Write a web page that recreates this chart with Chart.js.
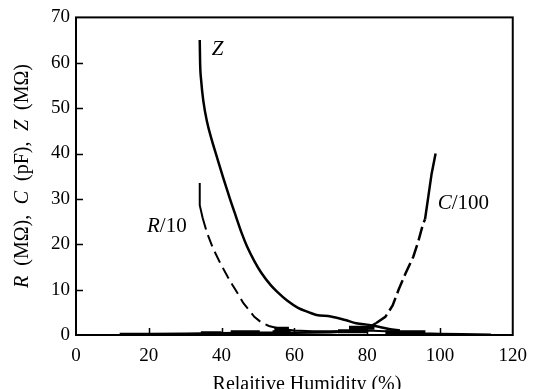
<!DOCTYPE html>
<html>
<head>
<meta charset="utf-8">
<script src="https://cdn.jsdelivr.net/npm/chart.js@4/dist/chart.umd.min.js"></script>
<style>
  html, body { margin: 0; padding: 0; background: #fff; }
  #wrap { width: 537px; height: 389px; }
</style>
</head>
<body>
<div id="wrap"><canvas id="myChart" width="537" height="389"></canvas></div>
<script>
// axis ticks
const xTicks = [0, 20, 40, 60, 80, 100, 120];
const yTicks = [0, 10, 20, 30, 40, 50, 60, 70];

// Z (MOhm)
const zHumidity = [34, 34.1, 34.4, 35, 36, 37.3, 38.8, 40.5, 42.3, 44, 45.5, 47, 49, 51, 53.5, 55.3, 58, 61, 64, 66.1, 70, 74, 77, 80.5, 83.2, 86, 89];
const zValues = [65, 60, 56, 51.5, 47, 43, 39, 34.5, 30, 26, 22.5, 19.5, 16.3, 13.6, 11, 9.5, 7.6, 6, 5, 4.4, 4.1, 3.3, 2.6, 2.2, 1.8, 1.3, 1];

// R/10
const rHumidity = [34, 34, 34.8, 36, 37.7, 39.6, 41.7, 43, 44.4, 46, 47.5, 49, 51, 53, 56, 60, 65, 70, 75, 80, 85, 90, 95, 100, 106, 114];
const rValues = [33.5, 28.6, 25.8, 22.5, 19, 15.9, 12.8, 11, 9.2, 7, 5.5, 4, 2.7, 2, 1.4, 1, 0.8, 0.8, 0.9, 1, 0.8, 0.6, 0.4, 0.3, 0.2, 0.1];

// C/100
const cHumidity = [12, 20, 30, 40, 50, 60, 70, 75, 78, 80.5, 82.4, 85, 87, 88.6, 90.5, 92.7, 94, 95.4, 95.9, 96.8, 97.7, 98.8];
const cValues = [0.2, 0.2, 0.3, 0.4, 0.5, 0.5, 0.6, 0.8, 1.2, 1.7, 2.6, 4, 6.5, 9.9, 13.5, 17.3, 20.5, 24.6, 25.5, 30.5, 35.5, 40];

// heavy scatter of points lying on the baseline
const baseHumidity = [34.3, 40, null, 42.5, 50.5, null, 54, 59, null, 54.5, 58.5, null, 72, 80, null, 75, 82, null, 85, 96];
const baseValues = [0.4, 0.4, null, 0.6, 0.6, null, 0.6, 0.6, null, 1.4, 1.4, null, 0.8, 0.8, null, 1.6, 1.6, null, 0.6, 0.6];

// series labels
const seriesLabels = [
  { parts: [["Z", true]], x: 37.3, y: 63 },
  { parts: [["R", true], ["/10", false]], x: 19.5, y: 24 },
  { parts: [["C", true], ["/100", false]], x: 99.4, y: 29 }
];

const serif = "'Liberation Serif', 'Times New Roman', serif";

function toPoints(xs, ys) {
  return xs.map((x, i) => (x === null ? { x: NaN, y: null } : { x: x, y: ys[i] }));
}

function drawParts(ctx, parts, x, y, size) {
  let cx = x;
  parts.forEach(p => {
    ctx.font = (p[1] ? "italic " : "") + size + "px " + serif;
    ctx.fillText(p[0], cx, y);
    cx += ctx.measureText(p[0]).width;
  });
}

const framePlugin = {
  id: "frame",
  afterDraw(chart) {
    const ctx = chart.ctx;
    const a = chart.chartArea;
    const xs = chart.scales.x, ys = chart.scales.y;
    ctx.save();
    ctx.strokeStyle = "#000";
    ctx.lineWidth = 2;
    ctx.strokeRect(a.left, a.top, a.right - a.left, a.bottom - a.top);
    ctx.lineWidth = 1.5;
    ctx.beginPath();
    xTicks.slice(1, -1).forEach(v => {
      const px = Math.round(xs.getPixelForValue(v)) + 0.5;
      ctx.moveTo(px, a.bottom);
      ctx.lineTo(px, a.bottom - 7);
    });
    yTicks.slice(1, -1).forEach(v => {
      const py = Math.round(ys.getPixelForValue(v)) + 0.5;
      ctx.moveTo(a.left, py);
      ctx.lineTo(a.left + 7, py);
    });
    ctx.stroke();

    ctx.fillStyle = "#000";
    ctx.textBaseline = "middle";
    ctx.textAlign = "left";
    seriesLabels.forEach(l => {
      drawParts(ctx, l.parts, xs.getPixelForValue(l.x), ys.getPixelForValue(l.y), 21);
    });

    // x title
    ctx.font = "20px " + serif;
    ctx.textAlign = "center";
    ctx.textBaseline = "alphabetic";
    ctx.fillText("Relaitive Humidity (%)", 307, 390);

    // y title, mixed italic
    const groups = [
      [["R", true], ["\u2002(M\u03A9),", false]],
      [["C", true], ["\u2002(pF),", false]],
      [["Z", true], ["\u2002(M\u03A9)", false]]
    ];
    const size = 20;
    const widths = groups.map(g => g.reduce((s, p) => {
      ctx.font = (p[1] ? "italic " : "") + size + "px " + serif;
      return s + ctx.measureText(p[0]).width;
    }, 0));
    const total = 224;
    const gap = (total - widths[0] - widths[1] - widths[2]) / 2;
    ctx.translate(23, 176);
    ctx.rotate(-Math.PI / 2);
    ctx.textAlign = "left";
    ctx.textBaseline = "middle";
    let start = -total / 2;
    groups.forEach((g, i) => {
      drawParts(ctx, g, start, 0, size);
      start += widths[i] + gap;
    });
    ctx.restore();
  }
};

const ctx = document.getElementById("myChart").getContext("2d");
new Chart(ctx, {
  type: "scatter",
  data: {
    datasets: [
      {
        label: "Z",
        data: toPoints(zHumidity, zValues),
        showLine: true,
        borderColor: "#000",
        borderWidth: 2.5,
        pointRadius: 0,
        cubicInterpolationMode: "monotone"
      },
      {
        label: "R/10",
        data: toPoints(rHumidity, rValues),
        showLine: true,
        borderColor: "#000",
        borderWidth: 2,
        pointRadius: 0,
        tension: 0,
        segment: {
          borderDash: c => (c.p0.parsed.x >= 34.5 && c.p0.parsed.x < 56 ? [12, 6] : undefined)
        }
      },
      {
        label: "C/100",
        data: toPoints(cHumidity, cValues),
        showLine: true,
        borderColor: "#000",
        borderWidth: 2.5,
        pointRadius: 0,
        tension: 0,
        segment: {
          borderDash: c => (c.p0.parsed.x >= 82 && c.p0.parsed.x < 95.5 ? [14, 5] : undefined)
        }
      },
      {
        label: "base",
        data: toPoints(baseHumidity, baseValues),
        showLine: true,
        spanGaps: false,
        borderColor: "#000",
        borderWidth: 4,
        pointRadius: 0
      }
    ]
  },
  plugins: [framePlugin],
  options: {
    responsive: false,
    animation: false,
    events: [],
    layout: { padding: { left: 0, right: 18, top: 17, bottom: 0 } },
    plugins: {
      legend: { display: false },
      tooltip: { enabled: false }
    },
    scales: {
      x: {
        type: "linear",
        min: xTicks[0],
        max: xTicks[xTicks.length - 1],
        afterFit: s => { s.height = 54; },
        afterBuildTicks: s => { s.ticks = xTicks.map(v => ({ value: v })); },
        grid: { display: false, drawTicks: false },
        border: { display: false },
        ticks: { color: "#000", padding: 10, maxRotation: 0, font: { family: serif, size: 19 } }
      },
      y: {
        type: "linear",
        min: yTicks[0],
        max: yTicks[yTicks.length - 1],
        afterFit: s => { s.width = 76; },
        afterBuildTicks: s => { s.ticks = yTicks.map(v => ({ value: v })); },
        grid: { display: false, drawTicks: false },
        border: { display: false },
        ticks: { color: "#000", padding: 6, font: { family: serif, size: 19 } }
      }
    }
  }
});
</script>
</body>
</html>
